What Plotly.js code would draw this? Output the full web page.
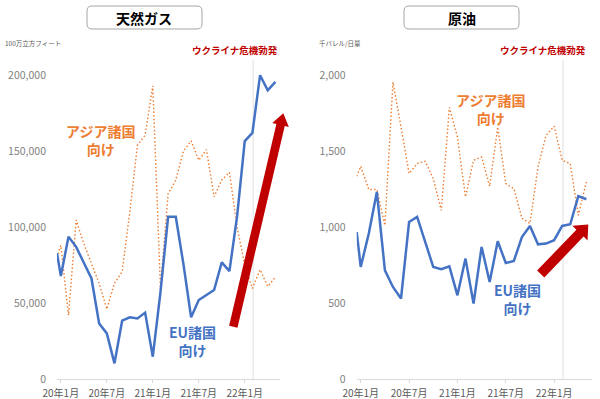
<!DOCTYPE html>
<html><head><meta charset="utf-8">
<script src="https://cdn.plot.ly/plotly-3.0.1.min.js"></script>
<style>html,body{margin:0;padding:0;background:#fff}#chart{width:600px;height:399px}</style>
</head><body><div id="chart"></div>
<script>
// month index: 0 = 2020-01 ... 28 = 2022-05 (first point slightly before Jan 2020)
const monthIdx = [-0.5,0,1,2,3,4,5,6,7,8,9,10,11,12,13,14,15,16,17,18,19,20,21,22,23,24,25,26,27,28];
const tickVals = [0,6,12,18,24];
const tickLabels = ["20年1月","20年7月","21年1月","21年7月","22年1月"];
const crisisMonth = 25.1;

// 天然ガス (100万立方フィート)
const gasEU   = [82700,67800,93600,87000,76500,66200,36600,30000,10300,38400,40600,39900,43700,14700,57000,106800,106800,75600,40600,52000,55300,58600,76800,71000,107000,156600,162000,200000,190000,195600];
const gasAsia = [80000,88000,42000,104600,89000,76000,63000,46000,63000,70600,110000,154000,160500,193000,60000,122000,131000,150000,156800,144000,151000,120000,131000,136000,100000,75000,59600,72000,61000,67000];
const gasYTicks = [0,50000,100000,150000,200000];

// 原油 (千バレル/日量)
const oilEU   = [968,738,958,1232,716,606,530,1034,1067,902,738,723,742,551,793,497,870,639,907,764,777,935,1008,887,892,914,1008,1019,1204,1184];
const oilAsia = [1335,1401,1248,1248,1012,1955,1660,1353,1419,1434,1320,1111,1788,1594,1199,1441,1462,1269,1660,1287,1254,1060,1024,1397,1605,1665,1441,1419,1078,1298];
const oilYTicks = [0,500,1000,1500,2000];

const BLUE = '#4472c4', ORANGE = '#ed7d31', RED = '#c00000';
const FONT = '"Noto Sans CJK JP", "Noto Sans", sans-serif';
const W = 600, H = 399;
const X = v => +(v / W).toFixed(5);
const Y = v => +(1 - v / H).toFixed(5);

function roundRect(x0, y0, x1, y1, r) {
  return `M${X(x0+r)},${Y(y0)} L${X(x1-r)},${Y(y0)} Q${X(x1)},${Y(y0)} ${X(x1)},${Y(y0+r)} ` +
         `L${X(x1)},${Y(y1-r)} Q${X(x1)},${Y(y1)} ${X(x1-r)},${Y(y1)} L${X(x0+r)},${Y(y1)} ` +
         `Q${X(x0)},${Y(y1)} ${X(x0)},${Y(y1-r)} L${X(x0)},${Y(y0+r)} Q${X(x0)},${Y(y0)} ${X(x0+r)},${Y(y0)} Z`;
}
function arrowPath(tx, ty, hx, hy, sw, hw, hl) {
  const dx = hx - tx, dy = hy - ty, L = Math.hypot(dx, dy);
  const ux = dx / L, uy = dy / L, nx = -uy, ny = ux;
  const bx = hx - ux * hl, by = hy - uy * hl;
  const pts = [[tx+nx*sw, ty+ny*sw],[bx+nx*sw, by+ny*sw],[bx+nx*hw, by+ny*hw],[hx, hy],
               [bx-nx*hw, by-ny*hw],[bx-nx*sw, by-ny*sw],[tx-nx*sw, ty-ny*sw]];
  return 'M' + pts.map(p => X(p[0]) + ',' + Y(p[1])).join(' L') + ' Z';
}

const DOT = '1.5px,2.2px';
const traces = [
  {x: monthIdx, y: gasAsia, xaxis:'x', yaxis:'y', mode:'lines', line:{color:ORANGE, width:1.4, dash:DOT}},
  {x: monthIdx, y: gasEU, xaxis:'x', yaxis:'y', mode:'lines', line:{color:BLUE, width:2.5}},
  {x: monthIdx, y: oilAsia, xaxis:'x2', yaxis:'y2', mode:'lines', line:{color:ORANGE, width:1.4, dash:DOT}},
  {x: monthIdx, y: oilEU, xaxis:'x2', yaxis:'y2', mode:'lines', line:{color:BLUE, width:2.5}}
];

const yDom = [1 - 379/H, 1 - 60/H];
const xCommon = {tickvals: tickVals, ticktext: tickLabels, showgrid:false, zeroline:false,
  showline:true, linecolor:'#d9d9d9', linewidth:1, ticks:'outside', ticklen:3, tickcolor:'#d9d9d9',
  tickfont:{size:10, color:'#595959', family:FONT}, ticklabelstandoff:2, fixedrange:true};
const yCommon = {showgrid:false, zeroline:false, showline:false, ticks:'', tickformat:',d',
  tickfont:{size:10.5, color:'#7f7f7f', family:FONT}, ticklabelstandoff:10, fixedrange:true};

function label(px, py, text, size, color, anchor) {
  return {xref:'paper', yref:'paper', x:X(px), y:Y(py), xanchor: anchor || 'center', yanchor:'middle',
          text:text, showarrow:false, font:{size:size, color:color, family:FONT}};
}

const layout = {
  width: W, height: H, margin:{l:0, r:0, t:0, b:0}, showlegend:false,
  paper_bgcolor:'#fff', plot_bgcolor:'#fff', font:{family:FONT},
  xaxis: Object.assign({}, xCommon, {domain:[57/W, 280/W], range:[-0.5, 28.6], anchor:'y'}),
  yaxis: Object.assign({}, yCommon, {domain:yDom, range:[0, 210000], tickvals:gasYTicks, anchor:'x'}),
  xaxis2: Object.assign({}, xCommon, {domain:[356.7/W, 592/W], range:[-0.5, 28.7], anchor:'y2'}),
  yaxis2: Object.assign({}, yCommon, {domain:yDom, range:[0, 2101], tickvals:oilYTicks, anchor:'x2'}),
  shapes: [
    {type:'line', xref:'x', yref:'y domain', x0:crisisMonth, x1:crisisMonth, y0:0, y1:1, line:{color:'#e0e0e0', width:1}, layer:'below'},
    {type:'line', xref:'x2', yref:'y2 domain', x0:crisisMonth, x1:crisisMonth, y0:0, y1:1, line:{color:'#e0e0e0', width:1}, layer:'below'},
    {type:'path', xref:'paper', yref:'paper', path: roundRect(87, 6, 202, 29, 5), line:{color:'#a6a6a6', width:1}, fillcolor:'#fff', layer:'below'},
    {type:'path', xref:'paper', yref:'paper', path: roundRect(404, 6, 519, 29, 5), line:{color:'#a6a6a6', width:1}, fillcolor:'#fff', layer:'below'},
    {type:'path', xref:'paper', yref:'paper', path: arrowPath(233.3, 326.7, 283.3, 113.3, 4.3, 8.5, 12), line:{width:0}, fillcolor:RED},
    {type:'path', xref:'paper', yref:'paper', path: arrowPath(540.7, 274, 588.3, 224.5, 5, 10.5, 12), line:{width:0}, fillcolor:RED}
  ],
  annotations: [
    label(144.5, 17.5, '<b>天然ガス</b>', 14, '#000'),
    label(461.5, 17.5, '<b>原油</b>', 14, '#000'),
    label(3, 43, '100万立方フィート', 6.5, '#595959', 'left'),
    label(317, 43, '千バレル/日量', 6.5, '#595959', 'left'),
    label(235, 50, '<b>ウクライナ危機勃発</b>', 9.5, RED),
    label(542.5, 50, '<b>ウクライナ危機勃発</b>', 9.5, RED),
    label(101, 140, '<b>アジア諸国<br>向け</b>', 14, ORANGE),
    label(491, 108.7, '<b>アジア諸国<br>向け</b>', 14, ORANGE),
    label(192.5, 341, '<b>EU諸国<br>向け</b>', 14, BLUE),
    label(517.5, 299, '<b>EU諸国<br>向け</b>', 14, BLUE)
  ]
};

Plotly.newPlot('chart', traces, layout, {staticPlot:true, displayModeBar:false});
</script></body></html>
